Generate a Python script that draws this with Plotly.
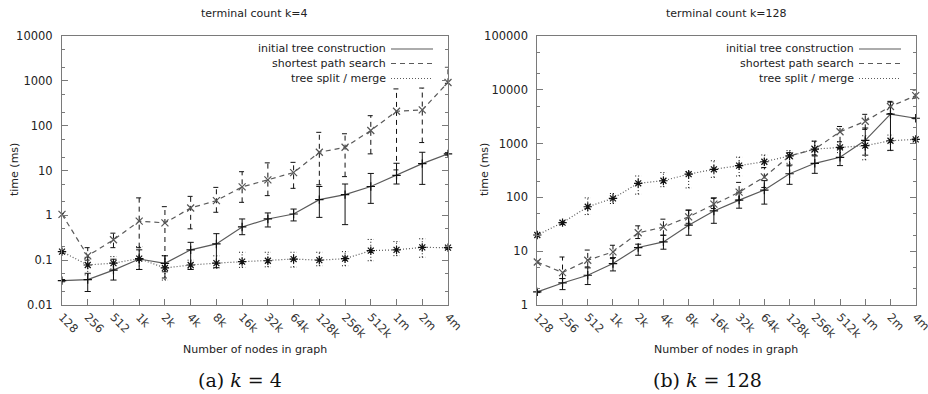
import plotly.graph_objects as go

# ---------------- data ----------------
nodes = ["128", "256", "512", "1k", "2k", "4k", "8k", "16k", "32k", "64k",
         "128k", "256k", "512k", "1m", "2m", "4m"]

series_names = ["initial tree construction", "shortest path search", "tree split / merge"]

# k = 4
k4_init = [0.035, 0.037, 0.060, 0.106, 0.085, 0.17, 0.23, 0.55, 0.83, 1.07, 2.24, 2.9, 4.4, 7.8, 14.2, 23.5]
k4_init_lo = [0.033, 0.020, 0.036, 0.062, 0.055, 0.062, 0.068, 0.37, 0.55, 0.75, 0.90, 0.62, 1.85, 5.0, 4.9, 22]
k4_init_hi = [0.037, 0.051, 0.105, 0.17, 0.125, 0.25, 0.39, 0.83, 1.13, 1.38, 4.4, 5.0, 8.6, 14.5, 25.5, 25]

k4_sps = [1.05, 0.125, 0.285, 0.74, 0.68, 1.46, 2.13, 4.3, 6.2, 9.0, 25.5, 33, 78, 210, 225, 920]
k4_sps_lo = [1.0, 0.10, 0.19, 0.19, 0.04, 0.50, 1.17, 1.95, 2.75, 4.0, 4.8, 7.3, 23.5, 10.3, 42, 880]
k4_sps_hi = [1.1, 0.19, 0.40, 2.45, 1.56, 2.65, 4.2, 9.4, 14.8, 15.2, 71, 66, 167, 660, 690, 2000]

k4_tsm = [0.155, 0.078, 0.086, 0.108, 0.067, 0.078, 0.086, 0.093, 0.097, 0.106, 0.100, 0.108, 0.163, 0.170, 0.193, 0.19]
k4_tsm_lo = [0.15, 0.047, 0.064, 0.062, 0.036, 0.064, 0.066, 0.069, 0.071, 0.07, 0.075, 0.075, 0.097, 0.126, 0.116, 0.18]
k4_tsm_hi = [0.16, 0.116, 0.12, 0.20, 0.127, 0.10, 0.125, 0.15, 0.15, 0.15, 0.15, 0.155, 0.29, 0.26, 0.30, 0.20]

# k = 128
k128_init = [1.75, 2.57, 3.57, 5.9, 11.7, 14.9, 30.5, 56, 89, 137, 275, 430, 556, 1150, 3530, 2960]
k128_init_lo = [1.7, 1.93, 2.4, 4.3, 8.4, 10.9, 19.8, 33, 63, 75, 175, 280, 390, 610, 750, 2900]
k128_init_hi = [1.8, 3.1, 4.9, 7.6, 13.5, 19.8, 58, 98, 125, 205, 400, 590, 815, 1950, 5900, 3000]

k128_sps = [6.3, 4.0, 6.8, 9.7, 22, 28, 43.6, 75, 125, 240, 590, 790, 1660, 2600, 4900, 7800]
k128_sps_lo = [6.0, 3.1, 5.1, 7.3, 17.2, 19.8, 33, 62, 89, 153, 385, 615, 1080, 1840, 3620, 7000]
k128_sps_hi = [6.6, 7.8, 10.5, 12.9, 29.6, 39.4, 58, 96, 190, 360, 680, 1110, 2080, 3500, 6100, 9900]

k128_tsm = [20, 34, 67, 96, 183, 204, 270, 333, 390, 460, 590, 790, 850, 915, 1130, 1200]
k128_tsm_lo = [19, 32, 48, 77, 115, 158, 150, 236, 250, 350, 430, 615, 680, 500, 740, 1150]
k128_tsm_hi = [21, 37, 98, 118, 250, 290, 300, 480, 560, 615, 740, 1110, 1080, 1400, 1440, 1250]

titles = ["terminal count k=4", "terminal count k=128"]
captions = ["(a) <i>k</i> = 4", "(b) <i>k</i> = 128"]
x_title = "Number of nodes in graph"
y_title = "time (ms)"

# ---------------- styling ----------------
FONT = "DejaVu Sans"
LINE_GRAY = "#5a5a5a"
AX_GRAY = "#7a7a7a"
styles = [
    dict(dash="solid", marker="cross-thin-open", mcolor="#111", msize=6),
    dict(dash="5px,4px", marker="x-thin-open", mcolor="#555", msize=7),
    dict(dash="1px,2px", marker="asterisk-open", mcolor="#111", msize=7),
]
legend_dash = ["solid", "5px,4px", "1px,2px"]

fig = go.Figure()
xi = list(range(len(nodes)))
CAP = 0.12


def add_series(xa, ya, vals, lo, hi, st):
    # error bars built from the data arrays
    ex, ey = [], []
    for i, (l, h) in enumerate(zip(lo, hi)):
        ex += [i, i, None, i - CAP, i + CAP, None, i - CAP, i + CAP, None]
        ey += [l, h, None, l, l, None, h, h, None]
    fig.add_trace(go.Scatter(x=ex, y=ey, mode="lines", xaxis=xa, yaxis=ya,
                             line=dict(color="#111", width=1, dash=st["dash"]),
                             showlegend=False, hoverinfo="skip", cliponaxis=False))
    fig.add_trace(go.Scatter(x=xi, y=vals, mode="lines+markers", xaxis=xa, yaxis=ya,
                             line=dict(color=LINE_GRAY, width=1.2, dash=st["dash"]),
                             marker=dict(symbol=st["marker"], size=st["msize"],
                                         color=st["mcolor"],
                                         line=dict(color=st["mcolor"], width=1.2)),
                             showlegend=False, cliponaxis=False))


panels = [
    ("x", "y", [(k4_init, k4_init_lo, k4_init_hi), (k4_sps, k4_sps_lo, k4_sps_hi),
                (k4_tsm, k4_tsm_lo, k4_tsm_hi)]),
    ("x2", "y2", [(k128_init, k128_init_lo, k128_init_hi), (k128_sps, k128_sps_lo, k128_sps_hi),
                  (k128_tsm, k128_tsm_lo, k128_tsm_hi)]),
]
for xa, ya, ser in panels:
    for (v, lo, hi), st in zip(ser, styles):
        add_series(xa, ya, v, lo, hi, st)

W, H = 928, 394
dom_x = [[62 / W, 448 / W], [537.3 / W, 915.7 / W]]
dom_y = [1 - 305 / H, 1 - 36 / H]


def xaxis(dom, anchor):
    return dict(domain=dom, anchor=anchor, range=[0, 15], tickmode="array",
                tickvals=xi, ticktext=nodes, tickangle=45, ticks="inside",
                ticklen=6, tickcolor=AX_GRAY, showline=True, linecolor=AX_GRAY,
                mirror=True, showgrid=False, zeroline=False, automargin=False,
                ticklabelstandoff=0, ticklabeloverflow="allow",
                tickfont=dict(family=FONT, size=11.5, color="#333"))


def yaxis(dom, anchor, rng):
    return dict(domain=dom, anchor=anchor, type="log", range=rng, dtick=1,
                tickformat="~g", ticks="inside", ticklen=6, tickcolor=AX_GRAY,
                showline=True, linecolor=AX_GRAY, mirror="ticks", showgrid=False,
                zeroline=False, exponentformat="none", automargin=False,
                ticklabelstandoff=6,
                minor=dict(ticks="inside", ticklen=3, dtick="D2", tickcolor=AX_GRAY,
                           showgrid=False),
                tickfont=dict(family=FONT, size=11.5, color="#222"))


fig.update_layout(
    width=W, height=H,
    margin=dict(l=0, r=0, t=0, b=0, autoexpand=False),
    paper_bgcolor="white", plot_bgcolor="white",
    showlegend=False,
    xaxis=xaxis(dom_x[0], "y"),
    yaxis=yaxis(dom_y, "x", [-2, 4]),
    xaxis2=xaxis(dom_x[1], "y2"),
    yaxis2=yaxis(dom_y, "x2", [0, 5]),
)

# titles, axis titles, captions
title_x = [255 / W, 726 / W]
cap_x = [240 / W, 707 / W]
ytitle_x = [14 / W, 484 / W]
for t, c, tx, cx, yx in zip(titles, captions, title_x, cap_x, ytitle_x):
    fig.add_annotation(text=t, x=tx, y=1 - 14 / H, xref="paper", yref="paper",
                       xanchor="center", yanchor="middle", showarrow=False,
                       font=dict(family=FONT, size=11, color="#222"))
    fig.add_annotation(text=x_title, x=tx, y=1 - 349 / H, xref="paper", yref="paper",
                       xanchor="center", yanchor="middle", showarrow=False,
                       font=dict(family=FONT, size=11, color="#222"))
    fig.add_annotation(text=y_title, x=yx, y=1 - 170 / H, xref="paper", yref="paper",
                       xanchor="center", yanchor="middle", textangle=-90, showarrow=False,
                       font=dict(family=FONT, size=11, color="#222"))
    fig.add_annotation(text=c, x=cx, y=1 - 380 / H, xref="paper", yref="paper",
                       xanchor="center", yanchor="middle", showarrow=False,
                       font=dict(family="DejaVu Serif", size=19, color="#111"))

# legends (gnuplot style: text right-aligned, sample on the right)
leg_text_right = [388 / W, 856 / W]
leg_line = [(391 / W, 433 / W), (859 / W, 901 / W)]
leg_rows = [49, 63.5, 78.5]
for p in range(2):
    for name, dash, ry in zip(series_names, legend_dash, leg_rows):
        yy = 1 - ry / H
        fig.add_annotation(text=name, x=leg_text_right[p], y=yy, xref="paper", yref="paper",
                           xanchor="right", yanchor="middle", showarrow=False,
                           font=dict(family=FONT, size=11, color="#222"))
        fig.add_shape(type="line", xref="paper", yref="paper",
                      x0=leg_line[p][0], x1=leg_line[p][1], y0=yy, y1=yy,
                      line=dict(color=LINE_GRAY, width=1.2, dash=dash))

fig.write_html("out.html", config={"displayModeBar": False},
               post_script="document.body.style.margin='0';document.body.style.overflow='hidden';")
